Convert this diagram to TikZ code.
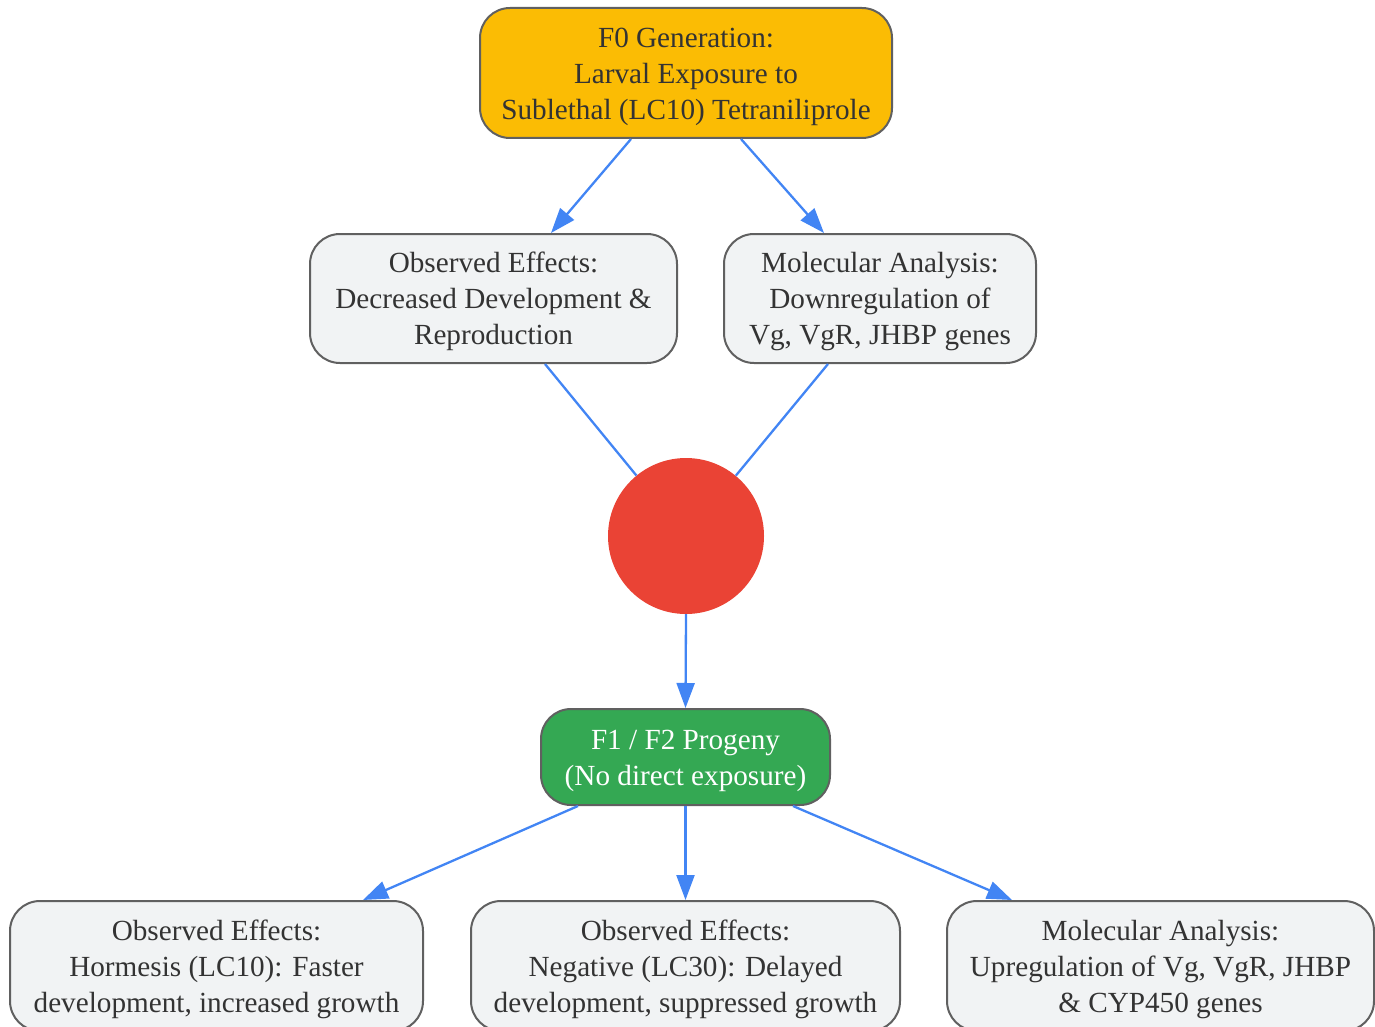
\documentclass[tikz,border=0pt]{standalone}
\usepackage{fontspec}
\setmainfont{Liberation Serif}
\usetikzlibrary{arrows.meta}
\definecolor{yel}{HTML}{FBBC04}
\definecolor{grayfill}{HTML}{F1F3F4}
\definecolor{redc}{HTML}{EA4335}
\definecolor{greenc}{HTML}{34A853}
\definecolor{bluec}{HTML}{4285F4}
\definecolor{bord}{HTML}{606060}
\definecolor{txt}{HTML}{333333}
\newcommand{\dropstrut}{\rule{0pt}{27pt}}
\tikzset{
  box/.style={draw=bord, line width=2pt, rounded corners=30pt, align=center, inner sep=0pt,
    font=\fontsize{29.2}{36}\selectfont, text=txt},
  graybox/.style={box, fill=grayfill},
  conn/.style={draw=bluec, line width=2.3pt},
  arr/.style={conn, -{Triangle[length=25pt,width=18pt]}},
}
\begin{document}
\begin{tikzpicture}[x=1pt,y=-1pt]
\useasboundingbox (0,0) rectangle (1375,1027);
\node[box, fill=yel, minimum width=412pt, minimum height=130pt] (f0) at (686,73)
  {\dropstrut F0 Generation:\\Larval Exposure to\\Sublethal (LC10) Tetraniliprole};
\node[graybox, minimum width=367pt, minimum height=129pt] (oe1) at (493.5,298.5)
  {\dropstrut Observed Effects:\\Decreased Development \&\\Reproduction};
\node[graybox, minimum width=312pt, minimum height=129pt] (ma1) at (880,298.5)
  {\dropstrut Molecular Analysis:\\Downregulation of\\Vg, VgR, JHBP genes};
\node[circle, fill=redc, minimum size=156pt, inner sep=0pt] (circ) at (686,536) {};
\node[box, fill=greenc, text=white, minimum width=289pt, minimum height=96pt] (f1) at (685.5,757)
  {\dropstrut F1 / F2 Progeny\\(No direct exposure)};
\node[graybox, minimum width=413pt, minimum height=130pt] (bl) at (216.5,966)
  {\dropstrut Observed Effects:\\Hormesis (LC10): Faster\\development, increased growth};
\node[graybox, minimum width=429pt, minimum height=130pt] (bm) at (685.5,966)
  {\dropstrut Observed Effects:\\Negative (LC30): Delayed\\development, suppressed growth};
\node[graybox, minimum width=427pt, minimum height=130pt] (br) at (1160.5,966)
  {\dropstrut Molecular Analysis:\\Upregulation of Vg, VgR, JHBP\\\& CYP450 genes};
\draw[arr] ([xshift=-55pt]f0.south) -- ([xshift=57.5pt]oe1.north);
\draw[arr] ([xshift=55pt]f0.south) -- ([xshift=-56pt]ma1.north);
\draw[conn] ([xshift=51.5pt]oe1.south) -- (circ);
\draw[conn] ([xshift=-52pt]ma1.south) -- (circ);
\draw[arr] (circ.south) -- (f1.north);
\draw[arr] ([xshift=-107.5pt]f1.south) -- ([xshift=146.5pt]bl.north);
\draw[arr] (f1.south) -- (bm.north);
\draw[arr] ([xshift=107.5pt]f1.south) -- ([xshift=-148.5pt]br.north);
\end{tikzpicture}
\end{document}
